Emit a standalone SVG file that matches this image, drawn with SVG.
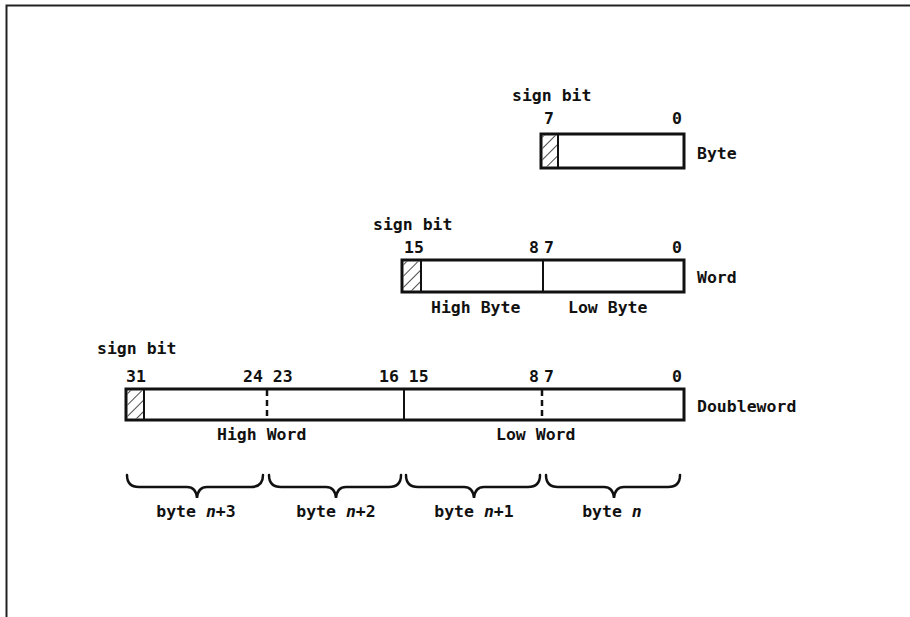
<svg xmlns="http://www.w3.org/2000/svg" width="910" height="617" viewBox="0 0 910 617">
<style>
text{font-family:"DejaVu Sans Mono","Liberation Mono",monospace;font-weight:bold;font-size:16.5px;fill:#111}
.box{fill:#fff;stroke:#111;stroke-width:3}
.div{stroke:#111;stroke-width:2}
.dash{stroke:#111;stroke-width:2.5;stroke-dasharray:6 4}
.brace{fill:none;stroke:#111;stroke-width:2.5;stroke-linecap:round}
.m{text-anchor:middle}
</style>
<defs>
<pattern id="h" patternUnits="userSpaceOnUse" width="8" height="8" patternTransform="rotate(45)">
<line x1="0" y1="0" x2="0" y2="8" stroke="#111" stroke-width="1.5"/>
</pattern>
</defs>
<rect width="910" height="617" fill="#fff"/>
<path d="M6.5 617 V5.5 H910" fill="none" stroke="#222" stroke-width="2"/>

<g id="byte">
<text x="512" y="101">sign bit</text>
<text class="m" x="549" y="124">7</text>
<text class="m" x="677" y="124">0</text>
<rect class="box" x="541" y="134" width="143" height="34"/>
<rect x="542.5" y="135.5" width="15.5" height="31" fill="url(#h)"/>
<line class="div" x1="558" y1="134" x2="558" y2="168"/>
<text x="697" y="159">Byte</text>
</g>

<g id="word">
<text x="373" y="230">sign bit</text>
<text x="404" y="253">15</text>
<text class="m" x="534" y="253">8</text>
<text class="m" x="549" y="253">7</text>
<text class="m" x="677" y="253">0</text>
<rect class="box" x="402" y="260" width="282" height="32"/>
<rect x="403.5" y="261.5" width="17.5" height="29" fill="url(#h)"/>
<line class="div" x1="421" y1="260" x2="421" y2="292"/>
<line class="div" x1="543" y1="260" x2="543" y2="292"/>
<text x="697" y="283">Word</text>
<text x="431" y="313">High Byte</text>
<text x="568" y="313">Low Byte</text>
</g>

<g id="doubleword">
<text x="97" y="354">sign bit</text>
<text x="126" y="382">31</text>
<text x="243" y="382">24 23</text>
<text x="379" y="382">16 15</text>
<text class="m" x="534" y="382">8</text>
<text class="m" x="549" y="382">7</text>
<text class="m" x="677" y="382">0</text>
<rect class="box" x="126" y="389" width="558" height="31"/>
<rect x="127.5" y="390.5" width="16.5" height="28" fill="url(#h)"/>
<line class="div" x1="144" y1="389" x2="144" y2="420"/>
<line class="dash" x1="267" y1="390" x2="267" y2="419"/>
<line class="div" x1="404" y1="389" x2="404" y2="420"/>
<line class="dash" x1="542" y1="390" x2="542" y2="419"/>
<text x="697" y="412">Doubleword</text>
<text x="217" y="440">High Word</text>
<text x="496" y="440">Low Word</text>
</g>

<g id="braces">
<path class="brace" d="M127 475 Q127 487 139 487 H187 Q196 487 197 498 Q198 487 207 487 H251 Q263 487 263 475"/>
<path class="brace" d="M269 475 Q269 487 281 487 H326 Q335 487 336 498 Q337 487 346 487 H389 Q401 487 401 475"/>
<path class="brace" d="M406 475 Q406 487 418 487 H464 Q473 487 474 498 Q475 487 484 487 H528 Q540 487 540 475"/>
<path class="brace" d="M546 475 Q546 487 558 487 H604 Q613 487 614 498 Q615 487 624 487 H668 Q680 487 680 475"/>
</g>

<g id="labels">
<text class="m" x="196" y="517">byte <tspan font-style="italic">n</tspan>+3</text>
<text class="m" x="336" y="517">byte <tspan font-style="italic">n</tspan>+2</text>
<text class="m" x="474" y="517">byte <tspan font-style="italic">n</tspan>+1</text>
<text class="m" x="612" y="517">byte <tspan font-style="italic">n</tspan></text>
</g>
</svg>
